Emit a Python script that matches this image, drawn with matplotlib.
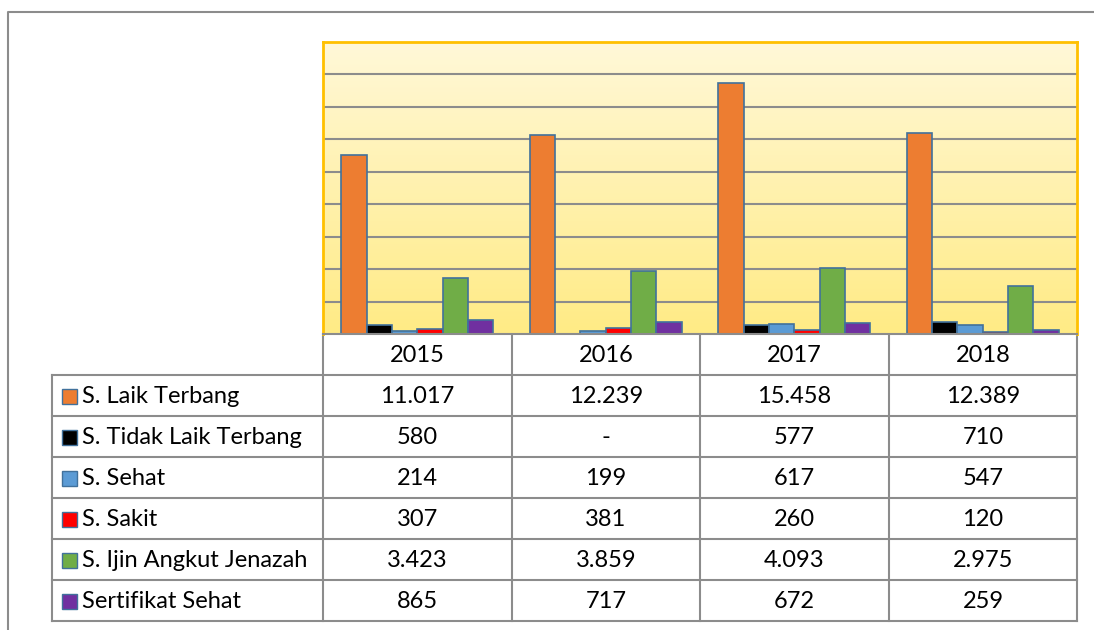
import numpy as np
import matplotlib.pyplot as plt
from matplotlib.colors import LinearSegmentedColormap
from matplotlib.patches import Rectangle

years = ['2015', '2016', '2017', '2018']
series = ['S. Laik Terbang', 'S. Tidak Laik Terbang', 'S. Sehat', 'S. Sakit',
          'S. Ijin Angkut Jenazah', 'Sertifikat Sehat']
laik = [11017, 12239, 15458, 12389]
tidak_laik = [580, None, 577, 710]
sehat = [214, 199, 617, 547]
sakit = [307, 381, 260, 120]
jenazah = [3423, 3859, 4093, 2975]
sertifikat = [865, 717, 672, 259]
values = [laik, tidak_laik, sehat, sakit, jenazah, sertifikat]
colors = ['#ED7D31', '#000000', '#5B9BD5', '#FF0000', '#70AD47', '#7030A0']

plt.rcParams['font.family'] = ['Lato', 'DejaVu Sans']

W, H = 1094, 630
fig = plt.figure(figsize=(W / 100, H / 100), dpi=100)

# outer frame
frame = fig.add_axes([0, 0, 1, 1])
frame.set_xlim(0, W)
frame.set_ylim(H, 0)
frame.axis('off')
frame.plot([8, 8, W + 5], [H + 5, 12, 12], color='#8C8C8C', lw=1.5)

# plot area
x0, x1, y0, y1 = 323, 1077, 42, 334
ax = fig.add_axes([x0 / W, 1 - y1 / H, (x1 - x0) / W, (y1 - y0) / H])
ymax = 18000
ax.set_xlim(0, len(years))
ax.set_ylim(0, ymax)
grad = LinearSegmentedColormap.from_list('g', ['#FFEB85', '#FFF8D8'])
ax.imshow(np.linspace(0, 1, 256).reshape(-1, 1), cmap=grad, aspect='auto',
          extent=[0, len(years), 0, ymax], origin='lower', zorder=0)
for g in range(2000, ymax, 2000):
    ax.axhline(g, color='#8C8C8C', lw=1.5, zorder=1)
bw = 0.134
for i, (vals, c) in enumerate(zip(values, colors)):
    xs = np.arange(len(years)) + 0.5 + (i - 2.5) * bw
    ax.bar(xs, [v or 0 for v in vals], width=bw, color=c, edgecolor='#41719C',
           lw=1.2, zorder=2)
ax.set_xticks([])
ax.set_yticks([])
for s in ['top', 'left', 'right']:
    ax.spines[s].set_color('#FFC000')
    ax.spines[s].set_linewidth(2)
ax.spines['bottom'].set_color('#8C8C8C')
ax.spines['bottom'].set_linewidth(1.5)

# data table
cols = [323, 512, 700, 889, 1077]
lx = 52
ty0, rh = 334, 41
nrows = len(series)
lc = '#8C8C8C'
for cx in cols:
    frame.plot([cx, cx], [ty0, ty0 + rh * (nrows + 1)], color=lc, lw=1.5)
frame.plot([lx, lx], [ty0 + rh, ty0 + rh * (nrows + 1)], color=lc, lw=1.5)
for r in range(1, nrows + 2):
    frame.plot([lx, cols[-1]], [ty0 + rh * r] * 2, color=lc, lw=1.5)

fs = 17
for j, yr in enumerate(years):
    frame.text((cols[j] + cols[j + 1]) / 2, ty0 + rh / 2 + 1, yr, ha='center',
               va='center', fontsize=fs)


def fmt(v):
    if v is None:
        return '-'
    return f'{v:,}'.replace(',', '.')


for r, (name, vals, c) in enumerate(zip(series, values, colors)):
    cy = ty0 + rh * (r + 1) + rh / 2 + 1
    frame.add_patch(Rectangle((62, cy - 8), 15, 15, facecolor=c,
                              edgecolor='#41719C', lw=1))
    frame.text(82, cy, name, ha='left', va='center', fontsize=fs)
    for j, v in enumerate(vals):
        frame.text((cols[j] + cols[j + 1]) / 2, cy, fmt(v), ha='center',
                   va='center', fontsize=fs)

fig.savefig('out.png', dpi=100)
